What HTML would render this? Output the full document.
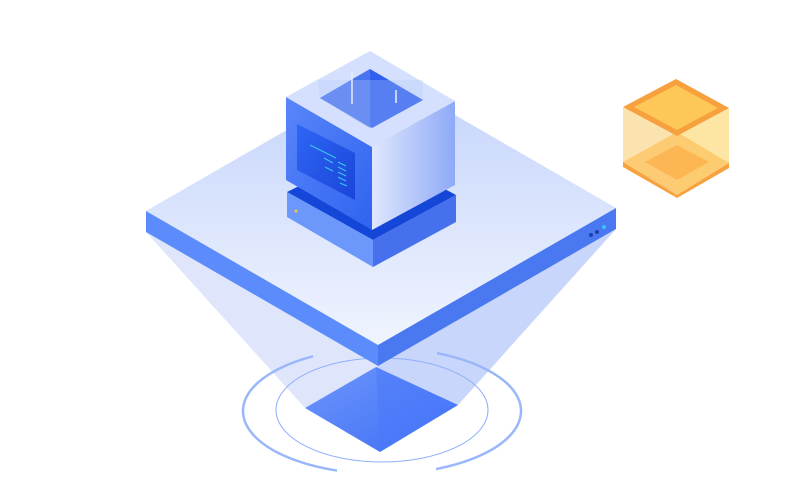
<!DOCTYPE html>
<html><head><meta charset="utf-8"><style>html,body{margin:0;padding:0;background:#fff}svg{display:block}</style></head>
<body>
<svg width="798" height="502" viewBox="0 0 798 502" xmlns="http://www.w3.org/2000/svg">
<defs>
<linearGradient id="top" x1="0" y1="0" x2="0" y2="1"><stop offset="0" stop-color="#c3d3fb"/><stop offset="1" stop-color="#f0f4fe"/></linearGradient>
<linearGradient id="cr" x1="0" y1="0" x2="1" y2="0"><stop offset="0" stop-color="#dfe7fd"/><stop offset="1" stop-color="#8ea9f7"/></linearGradient>
<linearGradient id="cl" x1="0" y1="0" x2="1" y2="1"><stop offset="0" stop-color="#5a86f9"/><stop offset="1" stop-color="#2f63f0"/></linearGradient>
<linearGradient id="dia" x1="0" y1="0" x2="1" y2="1"><stop offset="0" stop-color="#6d95fb"/><stop offset="1" stop-color="#3e6ff6"/></linearGradient>
<linearGradient id="scr" x1="0" y1="0" x2="1" y2="1"><stop offset="0" stop-color="#2f66f5"/><stop offset="1" stop-color="#1a45d8"/></linearGradient>
<mask id="m"><rect width="798" height="502" fill="#fff"/><rect x="313" y="330" width="124" height="50" fill="#000"/><rect x="337" y="440" width="99" height="50" fill="#000"/></mask>
</defs>
<polygon points="146,232 305,408 376,367 378,366" fill="#dfe6fc"/>
<polygon points="616,229 458,405 376,367 378,366" fill="#c8d6fb"/>
<ellipse cx="382" cy="410" rx="106" ry="52" fill="none" stroke="#8fb0fb" stroke-width="1"/>
<ellipse cx="382" cy="411" rx="139" ry="63" fill="none" stroke="#9ab7fb" stroke-width="2.5" mask="url(#m)"/>
<polygon points="305,408 376,367 458,405 380,452" fill="url(#dia)"/>
<polygon points="376,367 458,405 380,452" fill="#4a78fa" opacity=".5"/>
<polygon points="146,211 384,74 616,208 378,345" fill="url(#top)"/>
<polygon points="146,211 378,345 378,366 146,232" fill="#5c8cfb"/>
<polygon points="378,345 616,208 616,229 378,366" fill="#4a78f0"/>
<circle cx="591" cy="235" r="2" fill="#1e3faa"/><circle cx="597" cy="232" r="2" fill="#1e3faa"/><circle cx="604" cy="227" r="2" fill="#38c6f5"/>
<polygon points="287,192 372,150 456,195 373,240" fill="#1447d8"/>
<polygon points="287,192 373,240 373,267 287,217" fill="#6c98fb"/>
<polygon points="373,240 456,195 456,222 373,267" fill="#4670ec"/>
<circle cx="296" cy="211" r="1.5" fill="#f5c542"/>
<polygon points="286,97 372,147 372,230 286,180" fill="url(#cl)"/>
<polygon points="372,147 455,101 455,185 372,230" fill="url(#cr)"/>
<polygon points="370,51 455,101 372,147 286,97" fill="#d4e0fd"/>
<polygon points="370,69 423,100 372,128 320,98" fill="#2f5fee"/>
<polygon points="320,98 370,69 370,128" fill="#5b82ef" opacity=".6"/>
<polygon points="318,80 423,80 423,100 372,128 320,98" fill="#b7cbfb" opacity=".3"/>
<line x1="352" y1="72" x2="352" y2="104" stroke="#e8efff" stroke-width="1.5"/>
<line x1="396" y1="90" x2="396" y2="103" stroke="#e8efff" stroke-width="1.5"/>
<polygon points="297,124 355,153 355,200 297,170" fill="url(#scr)"/>
<g stroke="#39c3f2" stroke-width="1.2">
<line x1="310" y1="145" x2="336" y2="158"/><line x1="324" y1="158" x2="333" y2="163"/>
<line x1="325" y1="167" x2="333" y2="171"/><line x1="338" y1="162" x2="346" y2="166"/>
<line x1="338" y1="167" x2="346" y2="171"/><line x1="338" y1="172" x2="346" y2="176"/>
<line x1="338" y1="177" x2="346" y2="181"/><line x1="340" y1="183" x2="347" y2="186"/>
</g>
<polygon points="623,107 677,136 677,195 623,162" fill="#fbe3b0"/>
<polygon points="677,136 729,108 729,163 677,195" fill="#fde6a4"/>
<polygon points="623,162 677,132 729,163 677,195" fill="#fdc05a" opacity=".7"/>
<polygon points="645,162 677,145 709,162 677,180" fill="#fba83d" opacity=".6"/>
<polygon points="623,162 677,195 677,198 623,167" fill="#f7a23e"/>
<polygon points="677,195 729,163 729,168 677,198" fill="#f7a23e"/>
<polygon points="676,79 729,108 677,136 623,107" fill="#f6a03e"/>
<polygon points="676,85 718,108 677,130 634,107" fill="#fdc858"/>
</svg>
</body></html>
